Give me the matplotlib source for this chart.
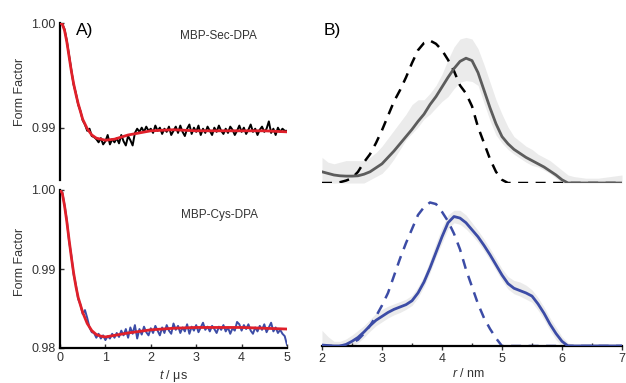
import numpy as np
import matplotlib.pyplot as plt

# ---- panel A: time traces (t step 0.05 us) ----
t_data = np.linspace(0, 5, 101)

sec_trace = [1.0000, 0.9999, 0.9994, 0.9983, 0.9969, 0.9955, 0.9941, 0.9933, 0.9922, 0.9916,
             0.9907, 0.9903, 0.9897, 0.9899, 0.9892, 0.9891, 0.9889, 0.9886, 0.9890, 0.9884,
             0.9887, 0.9893, 0.9884, 0.9889, 0.9886, 0.9890, 0.9885, 0.9893, 0.9887, 0.9883,
             0.9892, 0.9888, 0.9883, 0.9895, 0.9899, 0.9896, 0.9900, 0.9896, 0.9901, 0.9897,
             0.9899, 0.9895, 0.9902, 0.9897, 0.9900, 0.9894, 0.9899, 0.9896, 0.9901, 0.9893,
             0.9897, 0.9901, 0.9895, 0.9902, 0.9896, 0.9892, 0.9899, 0.9903, 0.9894, 0.9900,
             0.9896, 0.9902, 0.9893, 0.9899, 0.9895, 0.9901, 0.9897, 0.9893, 0.9900, 0.9896,
             0.9902, 0.9897, 0.9894, 0.9899, 0.9895, 0.9901, 0.9898, 0.9893, 0.9897, 0.9902,
             0.9896, 0.9900, 0.9894, 0.9898, 0.9903, 0.9896, 0.9899, 0.9893, 0.9898, 0.9901,
             0.9896, 0.9899, 0.9906, 0.9895, 0.9899, 0.9893, 0.9900, 0.9896, 0.9899, 0.9897,
             0.9897]

cys_trace = [1.0000, 0.9997, 0.9981, 0.9962, 0.9935, 0.9917, 0.9893, 0.9880, 0.9862, 0.9855,
             0.9843, 0.9848, 0.9838, 0.9826, 0.9820, 0.9819, 0.9813, 0.9818, 0.9812, 0.9816,
             0.9810, 0.9815, 0.9812, 0.9818, 0.9813, 0.9819, 0.9814, 0.9822, 0.9816, 0.9824,
             0.9813, 0.9826, 0.9818, 0.9829, 0.9812, 0.9824, 0.9817, 0.9827, 0.9820, 0.9816,
             0.9825, 0.9819, 0.9828, 0.9822, 0.9816, 0.9826, 0.9819, 0.9829, 0.9822, 0.9818,
             0.9831, 0.9823, 0.9828, 0.9819, 0.9826, 0.9821, 0.9830, 0.9818, 0.9827, 0.9822,
             0.9829, 0.9820, 0.9826, 0.9832, 0.9823, 0.9827, 0.9821, 0.9828, 0.9824, 0.9819,
             0.9827, 0.9823, 0.9829, 0.9821, 0.9826, 0.9818, 0.9825, 0.9822, 0.9833, 0.9830,
             0.9822, 0.9829, 0.9824, 0.9830, 0.9822, 0.9818, 0.9826, 0.9821, 0.9828, 0.9823,
             0.9830, 0.9820, 0.9826, 0.9832, 0.9821, 0.9826, 0.9819, 0.9823, 0.9818, 0.9815,
             0.9804]

t_fit = [0.0, 0.05, 0.1, 0.15, 0.2, 0.25, 0.3, 0.35, 0.4, 0.5, 0.6, 0.7, 0.8, 0.9, 1.0,
         1.2, 1.5, 2.0, 2.5, 3.0, 3.5, 4.0, 4.5, 5.0]
sec_fit = [1.0000, 0.9999, 0.9993, 0.9982, 0.9968, 0.9954, 0.9942, 0.9932, 0.9923, 0.9908,
           0.9899, 0.9893, 0.9890, 0.9889, 0.9888, 0.9889, 0.9893, 0.9897, 0.9898, 0.9897,
           0.9897, 0.9897, 0.9897, 0.9896]
cys_fit = [1.0000, 0.9996, 0.9980, 0.9960, 0.9937, 0.9915, 0.9895, 0.9878, 0.9864, 0.9845,
           0.9831, 0.9822, 0.9817, 0.9815, 0.9814, 0.9816, 0.9819, 0.9823, 0.9825, 0.9826,
           0.9826, 0.9826, 0.9825, 0.9824]

# ---- panel B: distance distributions (r step 0.1 nm) ----
r_nm = np.round(np.linspace(2.0, 7.0, 51), 1)

sec_sim = [0.00, 0.00, 0.00, 0.005, 0.015, 0.03, 0.07, 0.13, 0.18, 0.25,
           0.33, 0.42, 0.51, 0.58, 0.66, 0.75, 0.83, 0.875, 0.89, 0.87,
           0.83, 0.77, 0.70, 0.61, 0.56, 0.48, 0.35, 0.25, 0.15, 0.07,
           0.02, 0.00, 0.00, 0.00, 0.00, 0.00, 0.00, 0.00, 0.00, 0.00,
           0.00, 0.00, 0.00, 0.00, 0.00, 0.00, 0.00, 0.00, 0.00, 0.00, 0.00]
sec_exp = [0.07, 0.06, 0.05, 0.045, 0.043, 0.043, 0.045, 0.055, 0.07, 0.095,
           0.12, 0.16, 0.20, 0.245, 0.29, 0.335, 0.385, 0.43, 0.49, 0.54,
           0.60, 0.66, 0.715, 0.76, 0.78, 0.765, 0.69, 0.58, 0.47, 0.37,
           0.29, 0.245, 0.21, 0.185, 0.16, 0.14, 0.12, 0.10, 0.075, 0.05,
           0.02, 0.00, 0.00, 0.00, 0.00, 0.00, 0.00, 0.00, 0.00, 0.00, 0.00]
sec_hi = [0.16, 0.13, 0.12, 0.13, 0.14, 0.14, 0.14, 0.14, 0.16, 0.19,
          0.23, 0.28, 0.33, 0.38, 0.43, 0.49, 0.52, 0.52, 0.56, 0.61,
          0.68, 0.77, 0.85, 0.90, 0.91, 0.90, 0.84, 0.74, 0.63, 0.52,
          0.43, 0.35, 0.29, 0.26, 0.23, 0.21, 0.18, 0.16, 0.14, 0.11,
          0.08, 0.05, 0.04, 0.035, 0.03, 0.03, 0.03, 0.035, 0.04, 0.045, 0.05]
sec_lo = [0.00, 0.00, 0.00, 0.00, 0.00, 0.00, 0.00, 0.00, 0.02, 0.04,
          0.06, 0.10, 0.15, 0.21, 0.27, 0.31, 0.35, 0.40, 0.43, 0.47,
          0.51, 0.54, 0.59, 0.63, 0.64, 0.635, 0.61, 0.50, 0.39, 0.30,
          0.25, 0.21, 0.18, 0.155, 0.13, 0.11, 0.10, 0.08, 0.06, 0.03,
          0.00, 0.00, 0.00, 0.00, 0.00, 0.00, 0.00, 0.00, 0.00, 0.00, 0.00]

cys_sim = [0.00, 0.00, 0.00, 0.00, 0.00, 0.02, 0.04, 0.08, 0.13, 0.19,
           0.26, 0.34, 0.45, 0.56, 0.66, 0.75, 0.84, 0.89, 0.92, 0.91,
           0.86, 0.80, 0.72, 0.62, 0.49, 0.38, 0.27, 0.18, 0.11, 0.05,
           0.00, 0.00, 0.00, 0.00, 0.00, 0.00, 0.00, 0.00, 0.00, 0.00,
           0.00, 0.00, 0.00, 0.00, 0.00, 0.00, 0.00, 0.00, 0.00, 0.00, 0.00]
cys_exp = [0.006, 0.003, 0.00, 0.00, 0.01, 0.03, 0.055, 0.09, 0.13, 0.165,
           0.19, 0.215, 0.235, 0.25, 0.265, 0.29, 0.34, 0.41, 0.50, 0.60,
           0.70, 0.79, 0.83, 0.82, 0.79, 0.745, 0.70, 0.645, 0.585, 0.52,
           0.455, 0.40, 0.37, 0.355, 0.34, 0.32, 0.27, 0.21, 0.14, 0.08,
           0.03, 0.00, 0.00, 0.00, 0.00, 0.00, 0.00, 0.00, 0.00, 0.00, 0.00]
cys_hi = [0.10, 0.06, 0.03, 0.03, 0.045, 0.07, 0.10, 0.13, 0.17, 0.21,
          0.235, 0.255, 0.27, 0.285, 0.30, 0.325, 0.38, 0.45, 0.55, 0.66,
          0.76, 0.84, 0.87, 0.87, 0.84, 0.79, 0.74, 0.685, 0.625, 0.56,
          0.495, 0.445, 0.42, 0.41, 0.39, 0.36, 0.31, 0.25, 0.18, 0.12,
          0.06, 0.02, 0.01, 0.00, 0.00, 0.00, 0.00, 0.00, 0.00, 0.00, 0.00]
cys_lo = [0.00, 0.00, 0.00, 0.00, 0.00, 0.00, 0.02, 0.055, 0.095, 0.13,
          0.155, 0.18, 0.20, 0.215, 0.235, 0.26, 0.31, 0.38, 0.47, 0.57,
          0.66, 0.75, 0.79, 0.78, 0.75, 0.71, 0.665, 0.61, 0.55, 0.485,
          0.42, 0.365, 0.335, 0.32, 0.30, 0.28, 0.23, 0.17, 0.10, 0.04,
          0.00, 0.00, 0.00, 0.00, 0.00, 0.00, 0.00, 0.00, 0.00, 0.00, 0.00]

plt.rcParams['font.family'] = ['Liberation Sans', 'DejaVu Sans']
plt.rcParams['mathtext.fontset'] = 'custom'
plt.rcParams['mathtext.rm'] = 'Liberation Sans'
plt.rcParams['mathtext.it'] = 'Liberation Sans:italic'

txt = '#333333'
red = '#e0202a'
blue = '#3c4ca6'
gray_line = '#5c5c5c'
band = '#ebebeb'

W, H = 626, 383
fig = plt.figure(figsize=(W / 100, H / 100), dpi=100)


def px_axes(x0, y0, x1, y1):
    return fig.add_axes([x0 / W, 1 - y1 / H, (x1 - x0) / W, (y1 - y0) / H])


ax_a1 = px_axes(60, 23, 287, 180)
ax_a2 = px_axes(60, 190, 287, 348)
ax_b1 = px_axes(322, 23, 622, 183)
ax_b2 = px_axes(322, 190, 622, 346)

# panel A
for ax, trace, fit, col in [(ax_a1, sec_trace, sec_fit, 'black'), (ax_a2, cys_trace, cys_fit, blue)]:
    ax.plot(t_data, trace, color=col, lw=1.4, zorder=2)
    ax.plot(t_fit, fit, color=red, lw=2.0, zorder=3)
    ax.set_xlim(0, 5)
    for s in ['top', 'right']:
        ax.spines[s].set_visible(False)
    ax.spines['left'].set_linewidth(1.6)
    ax.tick_params(axis='y', direction='in', length=3, width=1, colors=txt, labelsize=9, pad=3)

ax_a1.set_ylim(0.985, 1.0)
ax_a1.set_yticks([0.99, 1.00])
ax_a1.set_yticklabels(['0.99', '1.00'])
ax_a1.spines['bottom'].set_visible(False)
ax_a1.set_xticks([])

ax_a2.set_ylim(0.98, 1.0)
ax_a2.set_yticks([0.98, 0.99, 1.00])
ax_a2.set_yticklabels(['0.98', '0.99', '1.00'])
ax_a2.spines['bottom'].set_linewidth(1.6)
ax_a2.set_xticks([0, 1, 2, 3, 4, 5])
ax_a2.tick_params(axis='x', direction='in', length=3, width=1, colors=txt, labelsize=9, pad=3)
ax_a2.set_xlabel('$t$ / μs', fontsize=9, color=txt)
ax_a2.xaxis.set_label_coords(0.5, -20 / 158)

# y labels placed in figure pixels
fig.text(20 / W, 1 - 92 / H, 'Form Factor', rotation=90, fontsize=9, color=txt, ha='center', va='center')
fig.text(20 / W, 1 - 262 / H, 'Form Factor', rotation=90, fontsize=9, color=txt, ha='center', va='center')

# panel B
for ax, sim, exp, lo, hi, col in [(ax_b1, sec_sim, sec_exp, sec_lo, sec_hi, 'black'),
                                  (ax_b2, cys_sim, cys_exp, cys_lo, cys_hi, blue)]:
    ax.fill_between(r_nm, lo, hi, color=band, lw=0, zorder=1)
    line_col = gray_line if col == 'black' else blue
    ax.plot(r_nm, exp, color=line_col, lw=2.0, zorder=3)
    ax.plot(r_nm, sim, color=col, lw=1.8, ls=(0, (4, 3)), zorder=2)
    ax.set_xlim(2, 7)
    ax.set_ylim(0, 1)
    for s in ['top', 'right', 'left']:
        ax.spines[s].set_visible(False)
    ax.set_yticks([])

ax_b1.spines['bottom'].set_visible(False)
ax_b1.set_xticks([])

ax_b2.spines['bottom'].set_linewidth(1.6)
ax_b2.set_xticks([2, 3, 4, 5, 6, 7])
ax_b2.set_xticks([2.5, 3.5, 4.5, 5.5, 6.5], minor=True)
ax_b2.tick_params(axis='x', which='major', direction='out', length=3, width=1, colors=txt, labelsize=9, pad=2)
ax_b2.tick_params(axis='x', which='minor', direction='in', length=2, width=1, colors=txt)
ax_b2.set_xlabel('$r$ / nm', fontsize=9, color=txt)
ax_b2.xaxis.set_label_coords(0.49, -21 / 156)

# labels
fig.text(85 / W, 1 - 30 / H, 'A)', fontsize=12.5, color='black', ha='center', va='center')
fig.text(332 / W, 1 - 30 / H, 'B)', fontsize=12.5, color='black', ha='center', va='center')
fig.text(218 / W, 1 - 36 / H, 'MBP-Sec-DPA', fontsize=8.5, color=txt, ha='center', va='center')
fig.text(220 / W, 1 - 215 / H, 'MBP-Cys-DPA', fontsize=8.5, color=txt, ha='center', va='center')

fig.savefig('out.png', dpi=100)
